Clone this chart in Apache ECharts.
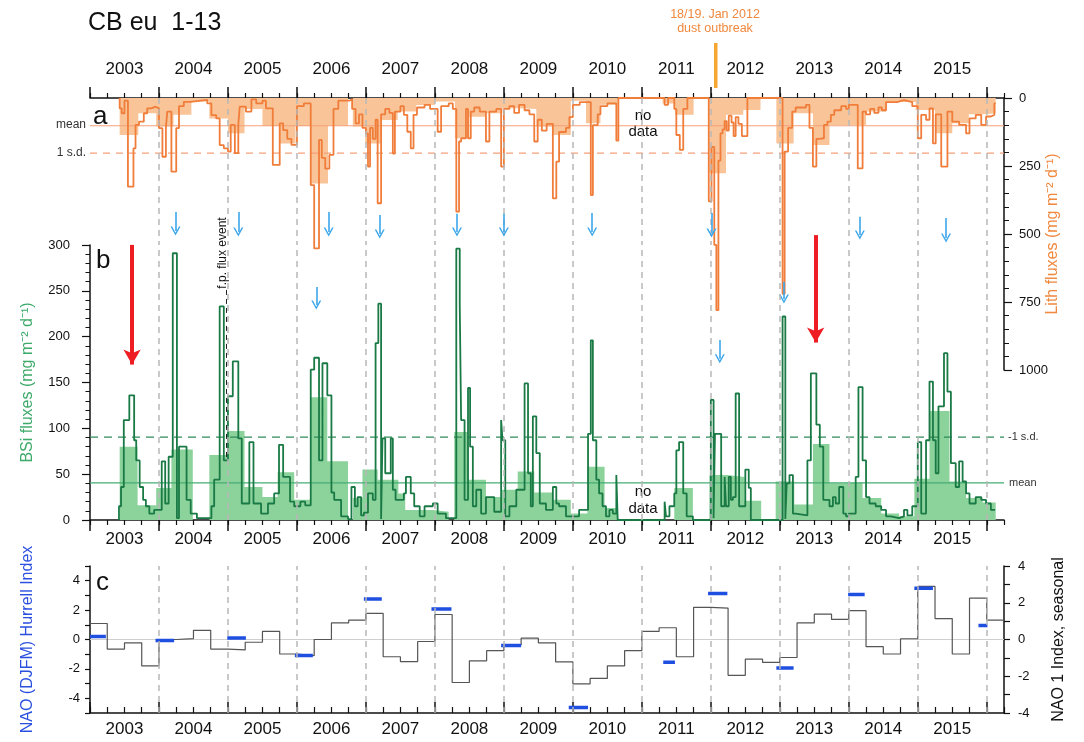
<!DOCTYPE html>
<html>
<head>
<meta charset="utf-8">
<title>CB eu 1-13</title>
<script src="https://cdn.jsdelivr.net/npm/echarts@6.0.0/dist/echarts.min.js"></script>
<style>
  html, body { margin: 0; padding: 0; background: #fff; }
  #chart { width: 1084px; height: 742px; }
</style>
</head>
<body>
<div id="chart"></div>
<script>
var FONT = '"Liberation Sans", Arial, Helvetica, sans-serif';

// axis ticks / labels
var yearMajor = [2003, 2004, 2005, 2006, 2007, 2008, 2009, 2010, 2011, 2012, 2013, 2014, 2015, 2016];
var yearCentres = [2003.5, 2004.5, 2005.5, 2006.5, 2007.5, 2008.5, 2009.5, 2010.5, 2011.5, 2012.5, 2013.5, 2014.5, 2015.5];
var yearBounds = [2004, 2005, 2006, 2007, 2008, 2009, 2010, 2011, 2012, 2013, 2014, 2015, 2016];
var xStart = 2003, xEnd = 2016.25;

// a) lithogenic flux, mg m-2 d-1 (value i holds from T[i] to T[i+1])
var lithT = [
  2003.43, 2003.43, 2003.46, 2003.50, 2003.55, 2003.63, 2003.66, 2003.71, 2003.78, 2003.83, 2003.89, 2003.95,
  2004.00, 2004.05, 2004.10, 2004.12, 2004.18, 2004.25, 2004.29, 2004.36, 2004.46, 2004.70, 2004.76, 2004.83, 2004.88, 2004.94,
  2005.00, 2005.04, 2005.10, 2005.15, 2005.17, 2005.26, 2005.34, 2005.41, 2005.50, 2005.55, 2005.65, 2005.75, 2005.80, 2005.86, 2005.92,
  2006.00, 2006.10, 2006.20, 2006.25, 2006.32, 2006.36, 2006.41, 2006.47, 2006.53, 2006.60, 2006.76, 2006.80, 2006.85, 2006.90, 2006.95,
  2007.00, 2007.03, 2007.06, 2007.10, 2007.14, 2007.17, 2007.22, 2007.28, 2007.34, 2007.39, 2007.42, 2007.50, 2007.55, 2007.60, 2007.65, 2007.69, 2007.74, 2007.85, 2007.93,
  2008.04, 2008.09, 2008.20, 2008.26, 2008.31, 2008.35, 2008.38, 2008.45, 2008.48, 2008.52, 2008.57, 2008.65, 2008.74, 2008.79, 2008.89, 2008.96,
  2009.00, 2009.08, 2009.15, 2009.22, 2009.30, 2009.37, 2009.44, 2009.49, 2009.55, 2009.62, 2009.71, 2009.76, 2009.80, 2009.90, 2009.95,
  2010.00, 2010.10, 2010.26, 2010.29, 2010.36, 2010.40, 2010.50, 2010.63, 2010.66,
  2011.33, 2011.38, 2011.47, 2011.50, 2011.55, 2011.60, 2011.66, 2011.97,
  2012.01, 2012.05, 2012.08, 2012.11, 2012.14, 2012.17, 2012.20, 2012.23, 2012.26, 2012.30, 2012.33, 2012.36, 2012.40, 2012.45, 2012.53,
  2013.04, 2013.07, 2013.12, 2013.18, 2013.23, 2013.38, 2013.43, 2013.48, 2013.53, 2013.57, 2013.64, 2013.69, 2013.74, 2013.79, 2013.89, 2013.96,
  2014.00, 2014.13, 2014.20, 2014.25, 2014.31, 2014.37, 2014.43, 2014.48, 2014.54, 2014.70, 2014.80, 2014.92,
  2015.00, 2015.05, 2015.12, 2015.17, 2015.22, 2015.26, 2015.34, 2015.43, 2015.50, 2015.60, 2015.70, 2015.75, 2015.84, 2015.92, 2015.99,
  2016.06, 2016.11, 2016.13
];
var lithV = [
  0, 38, 56, 10, 326, 185, 99, 87, 56, 38, 32, 38,
  111, 216, 111, 50, 271, 111, 30, 14, 7, 20, 63, 75, 173, 185,
  197, 99, 203, 99, 32, 50, 5, 20, 10, 38, 246, 93, 118, 150, 172,
  30, 20, 320, 553, 154, 220, 260, 209, 40, 10, 5, 40, 93, 60, 110,
  130, 252, 110, 150, 80, 387, 60, 40, 55, 204, 50, 30, 62, 124, 185, 62, 35, 25, 40,
  124, 30, 20, 40, 418, 160, 148, 40, 148, 50, 35, 50, 160, 50, 40, 252,
  40, 30, 55, 25, 45, 60, 160, 80, 120, 95, 369, 234, 125, 110, 70,
  25, 15, 357, 100, 60, 30, 20, 157, 0,
  25, 0, 40, 136, 191, 40, 0, 380,
  180, 540, 780, 230, 130, 115, 85, 120, 65, 90, 140, 70, 95, 140, 0,
  720, 197, 110, 50, 35, 25, 110, 252, 150, 148, 99, 87, 62, 45, 30, 40,
  25, 259, 50, 60, 40, 55, 35, 45, 15, 8, 15, 30,
  148, 62, 80, 38, 167, 60, 252, 50, 87, 99, 130, 75, 62, 99, 68,
  62, 20
];
// seasonal means (shaded)
var lithMeanT = [2003.43, 2003.70, 2003.96, 2004.21, 2004.47, 2004.73, 2005.00, 2005.24, 2005.50, 2005.74, 2005.98, 2006.20, 2006.45, 2006.74, 2006.81, 2006.99, 2007.22, 2007.46, 2007.73, 2008.00, 2008.29, 2008.50, 2008.74, 2008.98, 2009.23, 2009.47, 2009.71, 2009.97, 2010.19, 2010.40, 2010.65, 2011.30, 2011.48, 2011.75, 2011.98, 2012.22, 2012.47, 2012.72, 2012.95, 2013.20, 2013.48, 2013.72, 2013.97, 2014.25, 2014.54, 2014.97, 2015.25, 2015.50, 2015.74, 2015.97, 2016.13];
var lithMeanV = [136, 56, 105, 62, 13, 75, 130, 40, 103, 167, 103, 314, 102, 0, 105, 167, 81, 50, 26, 13, 148, 69, 56, 38, 40, 105, 136, 10, 93, 25, 0, 20, 62, 0, 277, 62, 44, 0, 167, 56, 173, 99, 99, 50, 15, 44, 130, 93, 60, 56];
var lithMeanLevel = 102;
var lithSdLevel = 203;

// b) biogenic silica flux, mg m-2 d-1
var bsiT = [
  2003.42, 2003.42, 2003.45, 2003.49, 2003.57, 2003.64, 2003.67, 2003.72, 2003.77, 2003.81, 2003.86, 2003.93,
  2004.04, 2004.09, 2004.14, 2004.20, 2004.26, 2004.29, 2004.40, 2004.46, 2004.55, 2004.76, 2004.80, 2004.88, 2004.94,
  2005.00, 2005.07, 2005.15, 2005.20, 2005.31, 2005.37, 2005.48, 2005.58, 2005.67, 2005.74, 2005.80, 2005.90, 2005.96,
  2006.05, 2006.12, 2006.20, 2006.25, 2006.32, 2006.37, 2006.44, 2006.50, 2006.54, 2006.64, 2006.74, 2006.79, 2006.84, 2006.88, 2006.93, 2006.97,
  2007.03, 2007.10, 2007.14, 2007.18, 2007.22, 2007.24, 2007.28, 2007.36, 2007.39, 2007.43, 2007.55, 2007.58, 2007.65, 2007.70, 2007.78, 2007.85, 2007.97,
  2008.04, 2008.16, 2008.31, 2008.36, 2008.38, 2008.43, 2008.48, 2008.51, 2008.55, 2008.60, 2008.67, 2008.74, 2008.86, 2008.96, 2008.98,
  2009.02, 2009.08, 2009.18, 2009.30, 2009.35, 2009.39, 2009.42, 2009.47, 2009.52, 2009.61, 2009.71, 2009.76, 2009.80, 2009.90,
  2010.09, 2010.22, 2010.26, 2010.29, 2010.34, 2010.38, 2010.43, 2010.48, 2010.53, 2010.58, 2010.63, 2010.65,
  2011.33, 2011.35, 2011.40, 2011.47, 2011.50, 2011.54, 2011.60, 2011.65, 2011.74,
  2012.00, 2012.04, 2012.06, 2012.15, 2012.20, 2012.22, 2012.26, 2012.29, 2012.32, 2012.36, 2012.41, 2012.50, 2012.55, 2012.58,
  2013.04, 2013.08, 2013.10, 2013.14, 2013.19, 2013.23, 2013.40, 2013.45, 2013.53, 2013.58, 2013.63, 2013.72, 2013.77, 2013.81, 2013.86, 2013.92, 2013.96,
  2014.00, 2014.10, 2014.14, 2014.20, 2014.25, 2014.30, 2014.39, 2014.47, 2014.54, 2014.61, 2014.73, 2014.80, 2014.85, 2014.92,
  2015.00, 2015.05, 2015.12, 2015.17, 2015.22, 2015.26, 2015.30, 2015.38, 2015.43, 2015.48, 2015.55, 2015.60, 2015.65, 2015.70, 2015.75, 2015.84, 2015.92, 2015.99,
  2016.06, 2016.12
];
var bsiV = [
  0, 15, 36, 109, 136, 87, 65, 36, 22, 15, 7, 11,
  64, 18, 69, 291, 2, 80, 22, 7, 2, 15, 44, 233, 65,
  135, 173, 89, 18, 85, 18, 7, 18, 29, 82, 47, 20, 15,
  20, 16, 164, 177, 65, 171, 136, 30, 22, 4, 1, 36, 15, 25, 5, 8,
  29, 22, 193, 236, 1, 89, 51, 89, 33, 22, 29, 47, 29, 15, 4, 15, 18,
  7, 2, 296, 235, 109, 22, 144, 80, 15, 33, 7, 25, 9, 109, 87,
  4, 15, 33, 149, 51, 15, 113, 73, 18, 11, 36, 18, 15, 4,
  11, 94, 196, 87, 44, 29, 15, 4, 11, 7, 49, 0,
  20, 4, 15, 29, 76, 85, 29, 4, 0,
  131, 2, 94, 15, 47, 15, 47, 22, 25, 138, 15, 55, 35, 0,
  222, 1, 40, 49, 7, 5, 65, 160, 104, 80, 22, 15, 25, 18, 36, 7, 4,
  7, 47, 145, 65, 25, 18, 15, 11, 4, 2, 4, 11, 5, 15,
  85, 7, 87, 151, 87, 51, 124, 182, 140, 62, 36, 64, 42, 29, 18, 25, 22, 18,
  11
];
var bsiMeanT = [2003.43, 2003.69, 2003.96, 2004.18, 2004.49, 2004.73, 2005.00, 2005.24, 2005.50, 2005.72, 2005.96, 2006.20, 2006.44, 2006.74, 2006.81, 2006.95, 2007.17, 2007.47, 2007.57, 2007.97, 2008.20, 2008.28, 2008.48, 2008.74, 2008.96, 2009.20, 2009.44, 2009.71, 2009.97, 2010.21, 2010.46, 2010.65, 2011.47, 2011.74, 2011.98, 2012.24, 2012.49, 2012.73, 2012.94, 2013.21, 2013.48, 2013.72, 2013.93, 2014.20, 2014.47, 2014.73, 2014.95, 2015.17, 2015.46, 2015.70, 2015.94, 2016.13];
var bsiMeanV = [80, 16, 35, 77, 0, 71, 97, 36, 25, 52, 22, 134, 64, 0, 24, 55, 44, 29, 11, 9, 0, 96, 44, 25, 33, 53, 30, 22, 7, 58, 13, 0, 35, 0, 49, 47, 21, 0, 42, 17, 83, 40, 41, 24, 7, 4, 45, 119, 42, 24, 19];
var bsiMeanLevel = 40.5;
var bsiSdLevel = 90.5;

// c) NAO 1 index, seasonal (right axis)
var naoT = [2003, 2003.25, 2003.5, 2003.75, 2004, 2004.25, 2004.5, 2004.75, 2005, 2005.25, 2005.5, 2005.75,
  2006, 2006.25, 2006.5, 2006.75, 2007, 2007.25, 2007.5, 2007.75, 2008, 2008.25, 2008.5, 2008.75,
  2009, 2009.25, 2009.5, 2009.75, 2010, 2010.25, 2010.5, 2010.75, 2011, 2011.25, 2011.5, 2011.75,
  2012, 2012.25, 2012.5, 2012.75, 2013, 2013.25, 2013.5, 2013.75, 2014, 2014.25, 2014.5, 2014.75,
  2015, 2015.25, 2015.5, 2015.75, 2016, 2016.25];
var naoV = [0.87, -0.52, -0.18, -1.44, 0.0, 0.05, 0.5, -0.52, -0.57, -0.15, 0.44, -0.79,
  -0.88, 0.0, 0.9, 1.05, 1.42, -0.94, -1.2, -0.11, 1.36, -2.34, -1.16, -0.61,
  -0.29, 0.07, -0.18, -1.22, -2.41, -2.12, -1.44, -0.61, 0.44, 0.64, -0.94, 1.75,
  1.71, -1.95, -1.07, -1.25, -0.98, 0.9, 1.38, 1.09, 1.57, -0.39, -0.79, 0.04,
  2.89, 1.14, -0.79, 2.25, 1.05];

// c) NAO (DJFM) Hurrell index (left axis)
var djfmStart = [2003.00, 2003.95, 2004.99, 2005.97, 2006.97, 2007.95, 2008.96, 2009.94, 2011.31, 2011.96, 2012.95, 2013.99, 2014.95, 2015.88];
var djfmEnd   = [2003.23, 2004.22, 2005.26, 2006.23, 2007.23, 2008.24, 2009.25, 2010.22, 2011.48, 2012.24, 2013.20, 2014.23, 2015.22, 2016.01];
var djfmValue = [0.2, -0.07, 0.11, -1.08, 2.75, 2.07, -0.4, -4.62, -1.55, 3.13, -1.94, 3.06, 3.49, 0.95];

// arrows: [time, from, to] in lith axis units
var blueArrows = [
  [2004.24, 419, 489], [2005.15, 419, 493], [2006.46, 419, 493], [2007.20, 430, 500],
  [2008.32, 426, 493], [2009.00, 426, 493], [2010.28, 423, 493], [2012.01, 423, 496],
  [2014.16, 437, 504], [2015.41, 441, 515],
  [2006.28, 695, 761], [2012.13, 890, 959], [2013.06, 676, 739]
];
var redArrows = [[2003.61, 540, 980], [2013.52, 504, 899]];

function steps(T, V) {
  var out = [];
  for (var i = 0; i < T.length; i++) out.push([T[i], V[Math.min(i, V.length - 1)]]);
  return out;
}

var djfmData = [];
djfmStart.forEach(function (s, i) {
  djfmData.push([s, djfmValue[i]], [djfmEnd[i], djfmValue[i]], [djfmEnd[i], null]);
});

function quarterAxis(grid, pos, inside, len) {
  return {
    type: 'value', gridIndex: grid, position: pos, min: xStart, max: xEnd, interval: 0.25,
    axisLine: { show: true, onZero: false, lineStyle: { color: '#111', width: 1.5 } },
    axisTick: { show: true, inside: inside, length: len, lineStyle: { color: '#111', width: 1.2 } },
    axisLabel: { show: false }, splitLine: { show: false }
  };
}
function yearAxis(grid, pos, inside, len, margin) {
  return {
    type: 'value', gridIndex: grid, position: pos, min: xStart, max: xEnd, interval: 0.5,
    axisLine: { show: false, onZero: false },
    axisTick: { show: true, inside: inside, length: len, customValues: yearMajor, lineStyle: { color: '#111', width: 1.5 } },
    axisLabel: {
      show: true, customValues: yearCentres, margin: margin, fontSize: 17, color: '#111', fontFamily: FONT,
      formatter: function (v) { return (v - Math.floor(v) > 0.4 && v < 2016) ? String(Math.floor(v)) : ''; }
    },
    splitLine: { show: false }
  };
}
function evenLabel(v) { return (v % 2 === 0 && Math.abs(v) < 5) ? String(v) : ''; }

// horizontal reference level as a plain two-point line series
function levelSeries(xi, yi, level, color, type) {
  return {
    type: 'line', xAxisIndex: xi, yAxisIndex: yi, symbol: 'none', silent: true, z: 2,
    data: [[xStart, level], [xEnd, level]],
    lineStyle: { color: color, width: 1.2, type: type }
  };
}

var dashGrey = { color: '#b8b8b8', type: [6, 5], width: 1.5 };

function txt(x, y, s, size, color, align, extra) {
  var o = { type: 'text', x: x, y: y, style: { text: s, fontSize: size, fontFamily: FONT, fill: color, align: align, verticalAlign: 'middle' } };
  if (extra) for (var k in extra) o[k] = extra[k];
  return o;
}

var option = {
  animation: false,
  backgroundColor: '#fff',
  textStyle: { fontFamily: FONT, color: '#111' },
  grid: [
    { left: 90, right: 80, top: 98, height: 272, containLabel: false, outerBoundsMode: 'none' },
    { left: 90, right: 80, top: 245, height: 275, containLabel: false, outerBoundsMode: 'none' },
    { left: 90, right: 80, top: 566, height: 147, containLabel: false, outerBoundsMode: 'none' }
  ],
  xAxis: [
    quarterAxis(0, 'top', false, 5),
    yearAxis(0, 'top', false, 11, 20),
    quarterAxis(1, 'bottom', false, 5),
    yearAxis(1, 'bottom', false, 11, 11),
    quarterAxis(2, 'bottom', true, 6),
    yearAxis(2, 'bottom', true, 11, 8)
  ],
  yAxis: [
    {
      type: 'value', gridIndex: 0, position: 'right', inverse: true, min: 0, max: 1000, interval: 250,
      axisLine: { show: true, lineStyle: { color: '#111', width: 1.5 } },
      axisTick: { show: true, length: 8, lineStyle: { color: '#111', width: 1.2 } },
      minorTick: { show: true, splitNumber: 5, length: 5, lineStyle: { color: '#111', width: 1 } },
      axisLabel: { fontSize: 13, margin: 15, color: '#111', formatter: function (v) { return String(v); } },
      splitLine: { show: false },
      name: 'Lith fluxes (mg m⁻² d⁻¹)', nameLocation: 'middle', nameGap: 41, nameRotate: 90, nameMoveOverlap: false,
      nameTextStyle: { color: '#F0883E', fontSize: 16 }
    },
    {
      type: 'value', gridIndex: 1, position: 'left', min: 0, max: 300, interval: 50,
      axisLine: { show: true, lineStyle: { color: '#111', width: 1.5 } },
      axisTick: { show: true, length: 8, lineStyle: { color: '#111', width: 1.2 } },
      minorTick: { show: true, splitNumber: 5, length: 4.5, lineStyle: { color: '#111', width: 1 } },
      axisLabel: { fontSize: 13, margin: 20, color: '#111' },
      splitLine: { show: false },
      name: 'BSi fluxes (mg m⁻² d⁻¹)', nameLocation: 'middle', nameGap: 54, nameMoveOverlap: false,
      nameTextStyle: { color: '#3DAA6A', fontSize: 16 }
    },
    {
      type: 'value', gridIndex: 2, position: 'left', min: -5, max: 5, interval: 1,
      axisLine: { show: true, onZero: false, lineStyle: { color: '#111', width: 1.5 } },
      axisTick: { show: true, length: 5, lineStyle: { color: '#111', width: 1.2 } },
      axisLabel: { fontSize: 13, margin: 10, color: '#111', formatter: evenLabel },
      splitLine: { show: false },
      name: 'NAO (DJFM) Hurrell Index', nameLocation: 'middle', nameGap: 54, nameMoveOverlap: false,
      nameTextStyle: { color: '#2B50E0', fontSize: 16 }
    },
    {
      type: 'value', gridIndex: 2, position: 'right', min: -4, max: 4, interval: 1,
      axisLine: { show: true, onZero: false, lineStyle: { color: '#111', width: 1.5 } },
      axisTick: { show: true, length: 6, lineStyle: { color: '#111', width: 1.2 } },
      axisLabel: { fontSize: 13, margin: 14, color: '#111', formatter: evenLabel },
      splitLine: { show: false },
      name: 'NAO 1 Index, seasonal', nameLocation: 'middle', nameGap: 47, nameRotate: 90, nameMoveOverlap: false,
      nameTextStyle: { color: '#111', fontSize: 16 }
    }
  ],
  series: [
    {
      name: 'lith seasonal', type: 'line', xAxisIndex: 0, yAxisIndex: 0, step: 'end', symbol: 'none', silent: true, z: 1,
      data: steps(lithMeanT, lithMeanV),
      lineStyle: { width: 0 }, areaStyle: { color: '#F8C498', opacity: 1 },
      markLine: {
        silent: true, symbol: 'none', label: { show: false }, lineStyle: dashGrey,
        data: yearBounds.map(function (y) { return [{ coord: [y, 0] }, { coord: [y, 540] }]; })
      }
    },
    levelSeries(0, 0, lithMeanLevel, '#F5A07A', 'solid'),
    levelSeries(0, 0, lithSdLevel, '#F5A07A', [7, 6]),
    {
      name: 'lith', type: 'line', xAxisIndex: 0, yAxisIndex: 0, step: 'end', symbol: 'none', z: 3,
      data: steps(lithT, lithV),
      lineStyle: { color: '#F07D3A', width: 1.8 },
      markLine: {
        silent: true, symbol: ['none', 'path://M0,9 L5,0 L10,9 L8.4,9 L5,2.8 L1.6,9 Z'], symbolSize: [10, 9],
        label: { show: false }, lineStyle: { color: '#3BA6EA', width: 1.6, type: 'solid' },
        data: blueArrows.map(function (a) { return [{ coord: [a[0], a[1]] }, { coord: [a[0], a[2]] }]; })
      }
    },
    {
      name: 'red arrows', type: 'line', xAxisIndex: 0, yAxisIndex: 0, data: [], z: 5,
      markLine: {
        silent: true, symbol: ['none', 'arrow'], symbolSize: [13, 15],
        label: { show: false }, lineStyle: { color: '#EE1D23', width: 4, type: 'solid' },
        data: redArrows.map(function (a) { return [{ coord: [a[0], a[1]] }, { coord: [a[0], a[2]] }]; })
      }
    },
    {
      name: 'BSi seasonal', type: 'line', xAxisIndex: 2, yAxisIndex: 1, step: 'end', symbol: 'none', silent: true, z: 1,
      data: steps(bsiMeanT, bsiMeanV),
      lineStyle: { width: 0 }, areaStyle: { color: '#8CD29B', opacity: 1 },
      markLine: {
        silent: true, symbol: 'none', label: { show: false }, lineStyle: dashGrey,
        data: yearBounds.map(function (y) { return { xAxis: y }; })
      }
    },
    levelSeries(2, 1, bsiMeanLevel, '#45AD74', 'solid'),
    levelSeries(2, 1, bsiSdLevel, '#2F8C5A', [8, 6]),
    {
      name: 'BSi', type: 'line', xAxisIndex: 2, yAxisIndex: 1, step: 'end', symbol: 'none', z: 3,
      data: steps(bsiT, bsiV),
      lineStyle: { color: '#1A7A45', width: 1.8 },
      markLine: {
        silent: true, symbol: 'none', label: { show: false },
        lineStyle: { color: '#222', width: 1, type: [5, 4] },
        data: [[{ coord: [2004.98, 251] }, { coord: [2004.98, 65] }]]
      }
    },
    levelSeries(4, 3, 0, '#cfcfcf', 'solid'),
    {
      name: 'NAO 1', type: 'line', xAxisIndex: 4, yAxisIndex: 3, step: 'end', symbol: 'none', z: 3,
      data: steps(naoT, naoV),
      lineStyle: { color: '#555', width: 1.2 },
      markLine: {
        silent: true, symbol: 'none', label: { show: false }, lineStyle: dashGrey,
        data: yearBounds.map(function (y) { return { xAxis: y }; })
      }
    },
    {
      name: 'NAO DJFM', type: 'line', xAxisIndex: 4, yAxisIndex: 2, symbol: 'none', z: 4, connectNulls: false,
      data: djfmData,
      lineStyle: { color: '#1F4FE0', width: 3.5, cap: 'butt' }
    }
  ],
  graphic: [
    txt(88, 23, 'CB eu  1-13', 25, '#111', 'left'),
    { type: 'rect', shape: { x: 714, y: 43, width: 3.5, height: 45 }, style: { fill: '#F7A632' } },
    txt(715, 15, '18/19. Jan 2012', 12.5, '#F0883E', 'center'),
    txt(715, 29, 'dust outbreak', 12.5, '#F0883E', 'center'),
    txt(93, 117, 'a', 26, '#111', 'left'),
    txt(96, 261, 'b', 26, '#111', 'left'),
    txt(96, 583, 'c', 26, '#111', 'left'),
    txt(86, 125, 'mean', 12, '#333', 'right'),
    txt(86, 153, '1 s.d.', 12, '#333', 'right'),
    txt(1008, 437, '-1 s.d.', 11, '#333', 'left'),
    txt(1009, 483, 'mean', 11, '#333', 'left'),
    txt(643, 116, 'no', 15, '#111', 'center'),
    txt(643, 132, 'data', 15, '#111', 'center'),
    txt(643, 492, 'no', 15, '#111', 'center'),
    txt(643, 509, 'data', 15, '#111', 'center'),
    txt(223, 253, 'f.p. flux event', 12, '#111', 'center', { rotation: Math.PI / 2 })
  ]
};

var chart = echarts.init(document.getElementById('chart'));
chart.setOption(option);
</script>
</body>
</html>
